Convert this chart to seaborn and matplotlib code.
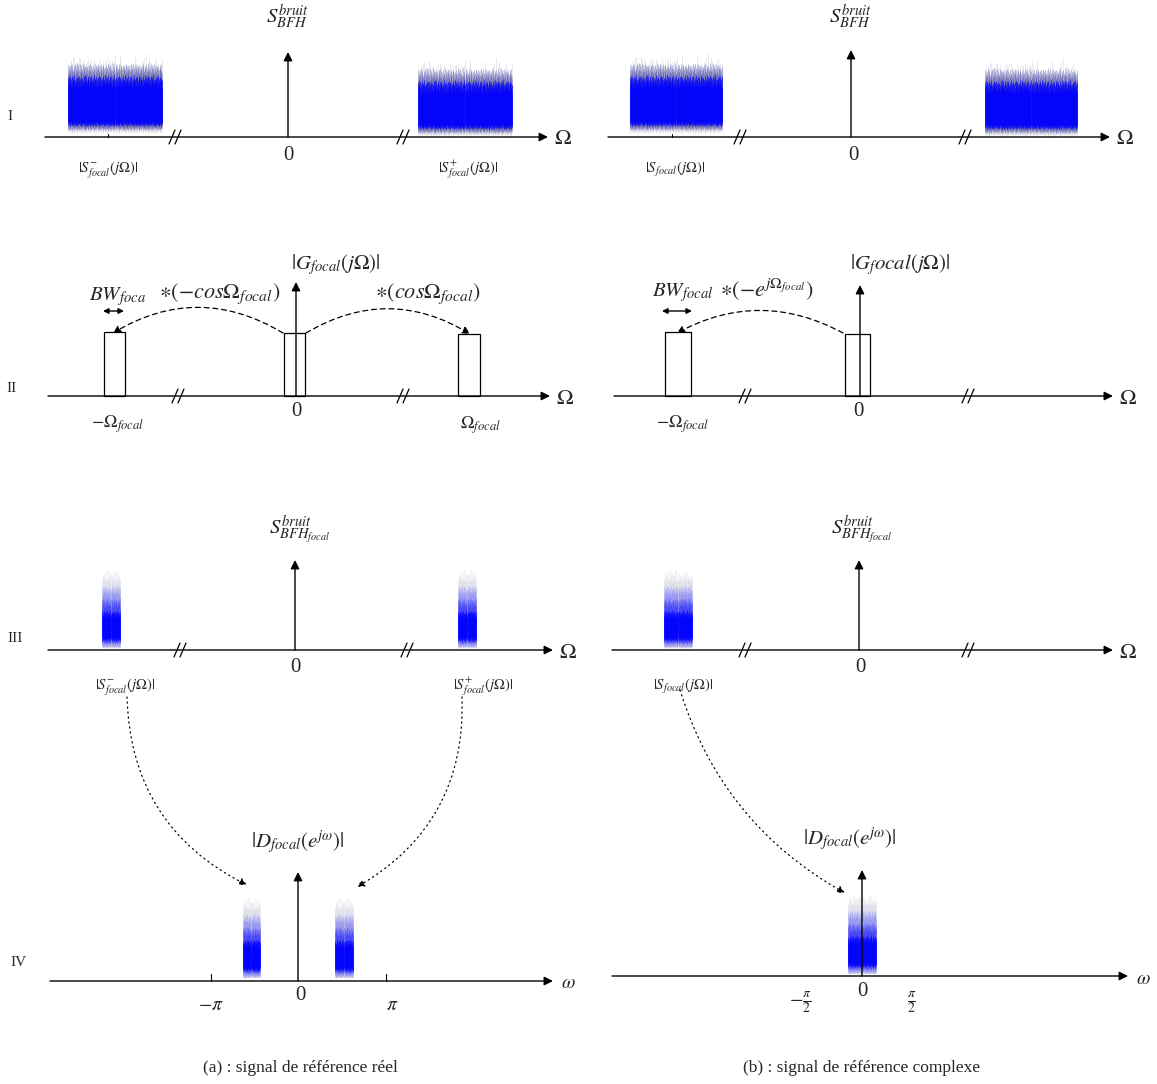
import numpy as np
import matplotlib
matplotlib.use('Agg')
import matplotlib.pyplot as plt
import seaborn as sns

sns.set_theme(style='white')
plt.rcParams['font.family'] = ['Liberation Serif', 'DejaVu Serif']
plt.rcParams['mathtext.fontset'] = 'stix'

# --- diagram content -------------------------------------------------------
row_names = ['I', 'II', 'III', 'IV']
row_label_xy = [(10, 117), (12, 388), (15, 638), (18, 962)]

# horizontal frequency axes (x_start, x_end, y) for column (a) and (b)
axes_a = [(45, 548, 137), (48, 550, 396), (48, 553, 650), (50, 553, 981)]
axes_b = [(608, 1110, 137), (614, 1113, 396), (612, 1113, 650), (612, 1128, 976)]
axis_names = [r'$\Omega$', r'$\Omega$', r'$\Omega$', r'$\omega$']

# vertical arrows (x, top)
vert_a = [(288, 52), (296, 282), (295, 560), (298, 872)]
vert_b = [(851, 50), (860, 285), (859, 560), (862, 870)]

titles_a = [r'$S^{bruit}_{BFH}$', r'$|G_{focal}(j\Omega)|$',
            r'$S^{bruit}_{BFH_{focal}}$', r'$|D_{focal}(e^{j\omega})|$']
titles_b = [r'$S^{bruit}_{BFH}$', r'$|G_{f}ocal(j\Omega)|$',
            r'$S^{bruit}_{BFH_{focal}}$', r'$|D_{focal}(e^{j\omega})|$']
title_xy_a = [(288, 17), (336, 265), (300, 530), (298, 842)]
title_xy_b = [(851, 17), (900, 265), (862, 530), (850, 839)]

zero_xy_a = [(288, 156), (296, 412), (295, 667), (300, 996)]
zero_xy_b = [(853, 156), (858, 411), (860, 667), (862, 992)]

breaks_a = [(175, 403), (178, 403), (180, 407), ()]
breaks_b = [(740, 965), (745, 968), (745, 968), ()]

# noise spectra: (x_left, x_right, bottom_y, height, faded)
noise_blocks = [
    (68, 162, 133, 82, False), (418, 512, 136, 80, False),
    (630, 722, 133, 82, False), (985, 1077, 136, 80, False),
    (102, 120, 648, 84, True), (458, 476, 648, 84, True),
    (664, 692, 648, 84, True),
    (243, 260, 978, 86, True), (335, 353, 978, 86, True),
    (848, 876, 974, 86, True),
]
# relative noise amplitude pattern
jitter = [0.62, 0.15, 0.88, 0.41, 0.97, 0.23, 0.55, 0.07, 0.74, 0.36, 0.91,
          0.48, 0.12, 0.67, 0.29, 0.83, 0.05, 0.58, 0.94, 0.33, 0.71, 0.19,
          0.46, 0.86, 0.02, 0.64, 0.39, 0.78, 0.25, 0.51, 0.99, 0.11, 0.69,
          0.31, 0.84, 0.17, 0.57, 0.93, 0.44, 0.08, 0.76, 0.27, 0.61, 0.13,
          0.89, 0.38, 0.72, 0.21, 0.53, 0.96, 0.34, 0.68, 0.09, 0.81, 0.43,
          0.26, 0.59, 0.03, 0.87, 0.49, 0.16, 0.79, 0.35, 0.65, 0.22, 0.92,
          0.47, 0.01]

spec_labels = [r'$|S^{-}_{focal}(j\Omega)|$', r'$|S^{+}_{focal}(j\Omega)|$',
               r'$|S_{focal}(j\Omega)|$',
               r'$|S^{-}_{focal}(j\Omega)|$', r'$|S^{+}_{focal}(j\Omega)|$',
               r'$|S_{focal}(j\Omega)|$']
spec_label_xy = [(108, 170), (468, 170), (675, 170),
                 (125, 687), (483, 687), (683, 687)]

# filter rectangles of row II: (x_left, x_right, top)
filter_rects = [(104, 125, 332), (284, 305, 333), (458, 480, 334),
                (665, 691, 332), (845, 870, 334)]
filter_axis_y = 396

freq_labels = [r'$-\Omega_{focal}$', r'$\Omega_{focal}$', r'$-\Omega_{focal}$']
freq_label_xy = [(118, 424), (480, 425), (683, 424)]

bw_labels = [r'$BW_{foca}$', r'$BW_{focal}$']
bw_label_xy = [(118, 297), (683, 293)]
bw_arrows = [(103, 124, 311), (662, 692, 311)]

op_labels = [r'$\ast(-cos\Omega_{focal})$', r'$\ast(cos\Omega_{focal})$',
             r'$\ast(-e^{j\Omega_{focal}})$']
op_label_xy = [(220, 294), (428, 294), (767, 290)]

# curved connectors (start, end, curvature)
dashed_arcs = [((283, 333), (113, 333), 0.3), ((306, 333), (470, 334), -0.3),
               ((843, 333), (677, 333), 0.27)]
dotted_arcs = [((127, 697), (247, 885), 0.3), ((462, 697), (357, 887), -0.3),
               ((680, 690), (845, 893), 0.2)]

omega_ticks = [211, 386]
omega_tick_labels = [r'$-\pi$', r'$\pi$', r'$-\frac{\pi}{2}$', r'$\frac{\pi}{2}$']
omega_tick_label_xy = [(211, 1005), (392, 1005), (800, 1002), (912, 1002)]

captions = ['(a) : signal de référence réel', '(b) : signal de référence complexe']
caption_xy = [(300, 1068), (862, 1068)]

# --- drawing ---------------------------------------------------------------
fig = plt.figure(figsize=(11.57, 10.84), dpi=100)
ax = fig.add_axes([0, 0, 1, 1])
ax.set_xlim(0, 1157)
ax.set_ylim(1084, 0)
ax.axis('off')

arrow_kw = dict(arrowstyle='-|>', color='black', lw=1.0,
                mutation_scale=13, shrinkA=0, shrinkB=0)


def draw_noise(x0, x1, base, height, faded):
    xs = np.linspace(x0, x1, int((x1 - x0) * 3))
    # three patterns of different lengths so the texture does not repeat
    j1 = np.resize(jitter, len(xs))
    j2 = np.resize(jitter[:53][::-1], len(xs))
    j3 = np.resize(jitter[5:64], len(xs))
    spike = j1 * j2
    top = base - height
    if not faded:
        ax.vlines(xs, base - 5 * j2, top + 2 + 20 * (1 - spike),
                  color='#a8a8c4', alpha=0.4, lw=0.45)
        ax.vlines(xs, base - 3 - 5 * j3, top + 12 + 18 * j2,
                  color='#2a2aa0', alpha=0.45, lw=0.45)
        ax.vlines(xs, base - 7 - 5 * j1, top + 24 + 14 * j3,
                  color='blue', lw=0.45)
    else:
        ax.vlines(xs, base - 2 * j2, top + 3 + 14 * (1 - spike),
                  color='#c4c4d8', alpha=0.3, lw=0.45)
        ax.vlines(xs, base - 3 * j3, base - 0.75 * height + 10 * j2,
                  color='blue', alpha=0.18, lw=0.45)
        ax.vlines(xs, base - 4 - 3 * j1, base - 0.6 * height + 10 * j3,
                  color='blue', alpha=0.35, lw=0.45)
        ax.vlines(xs, base - 7 - 4 * j2, base - 0.45 * height + 8 * j1,
                  color='blue', alpha=0.95, lw=0.45)


def draw_break(x, y):
    for dx in (-3, 3):
        ax.plot([x + dx - 3, x + dx + 3], [y + 7, y - 7], color='black', lw=0.9)


for blk in noise_blocks:
    draw_noise(*blk)

for axes, verts, titles, title_xy, zeros, brks in [
        (axes_a, vert_a, titles_a, title_xy_a, zero_xy_a, breaks_a),
        (axes_b, vert_b, titles_b, title_xy_b, zero_xy_b, breaks_b)]:
    for i, (x0, x1, y) in enumerate(axes):
        ax.annotate('', xy=(x1, y), xytext=(x0, y), arrowprops=arrow_kw)
        ax.text(x1 + 15, y + 3, axis_names[i], fontsize=16 if i < 3 else 14,
                ha='center', va='center')
        vx, vtop = verts[i]
        ax.annotate('', xy=(vx, vtop), xytext=(vx, y), arrowprops=arrow_kw)
        ax.text(*title_xy[i], titles[i], fontsize=15, ha='center', va='center')
        ax.text(*zeros[i], '0', fontsize=15, ha='center', va='center')
        for b in brks[i]:
            draw_break(b, y)

for name, (x, y) in zip(row_names, row_label_xy):
    ax.text(x, y, name, fontsize=11, ha='center', va='center')

for lab, (x, y) in zip(spec_labels, spec_label_xy):
    ax.text(x, y, lab, fontsize=10.5, ha='center', va='center')

# small ticks under the row I spectra
for x in (108, 672):
    ax.plot([x, x], [137, 134], color='black', lw=0.8)

# filter boxes of row II
for x0, x1, top in filter_rects:
    ax.bar((x0 + x1) / 2, top - filter_axis_y, bottom=filter_axis_y,
           width=x1 - x0, fill=False, edgecolor='black', lw=0.9)

for lab, (x, y) in zip(freq_labels, freq_label_xy):
    ax.text(x, y, lab, fontsize=13, ha='center', va='center')
for lab, (x, y) in zip(bw_labels, bw_label_xy):
    ax.text(x, y, lab, fontsize=15, ha='center', va='center')
for x0, x1, y in bw_arrows:
    ax.annotate('', xy=(x0, y), xytext=(x1, y),
                arrowprops=dict(arrowstyle='<|-|>', color='black', lw=1.0,
                                mutation_scale=8, shrinkA=0, shrinkB=0))
for lab, (x, y) in zip(op_labels, op_label_xy):
    ax.text(x, y, lab, fontsize=16, ha='center', va='center')

for start, end, rad in dashed_arcs:
    ax.annotate('', xy=end, xytext=start,
                arrowprops=dict(arrowstyle='-|>', color='black', lw=0.9,
                                ls=(0, (4, 3)), mutation_scale=11,
                                connectionstyle=f'arc3,rad={rad}',
                                shrinkA=0, shrinkB=0))
for start, end, rad in dotted_arcs:
    ax.annotate('', xy=end, xytext=start,
                arrowprops=dict(arrowstyle='-|>', color='black', lw=0.9,
                                ls=(0, (1, 3)), mutation_scale=11,
                                connectionstyle=f'arc3,rad={rad}',
                                shrinkA=0, shrinkB=0))

for x in omega_ticks:
    ax.plot([x, x], [981, 974], color='black', lw=0.8)
for lab, (x, y) in zip(omega_tick_labels, omega_tick_label_xy):
    ax.text(x, y, lab, fontsize=14, ha='center', va='center')

for cap, (x, y) in zip(captions, caption_xy):
    ax.text(x, y, cap, fontsize=12.5, ha='center', va='center')

fig.savefig('out.png', dpi=100, facecolor='white')
